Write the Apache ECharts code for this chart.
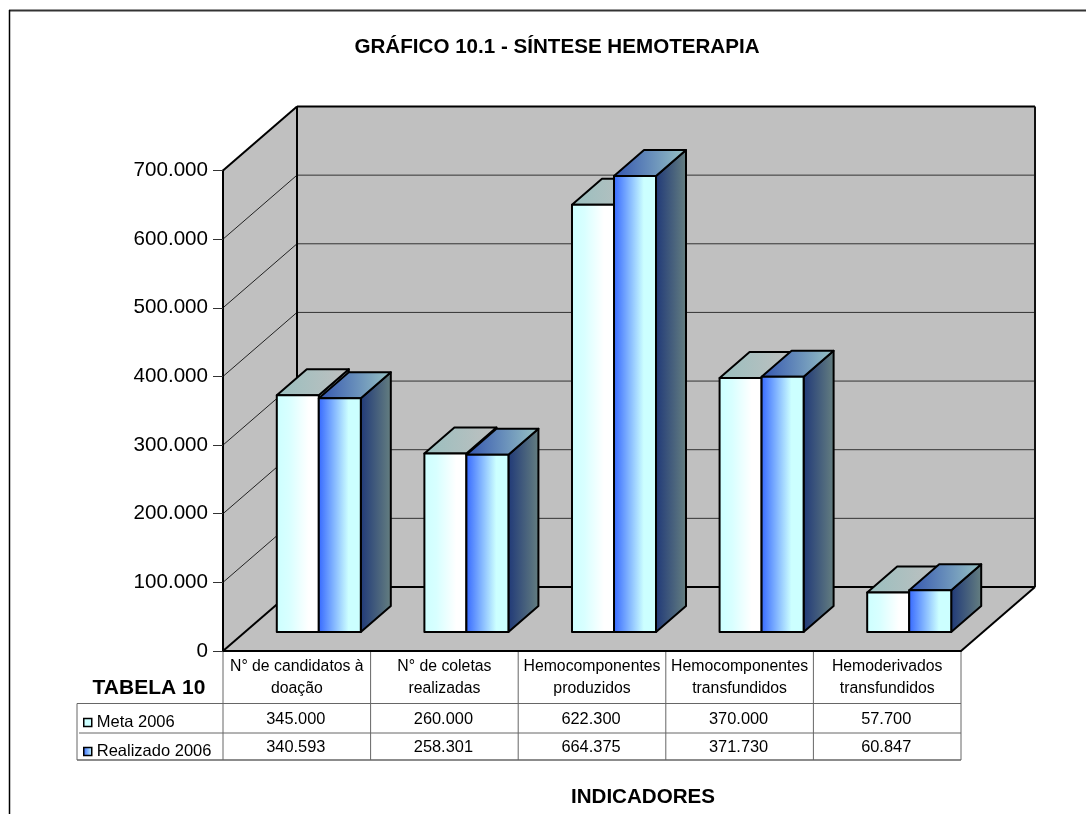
<!DOCTYPE html>
<html><head><meta charset="utf-8">
<style>html,body{margin:0;padding:0;background:#fff}#c{width:1086px;height:814px}</style>
<script src="https://cdn.jsdelivr.net/npm/echarts@6/dist/echarts.min.js"></script>
</head><body><div id="c"></div>
<script>
const categories = ["N° de candidatos à\ndoação","N° de coletas\nrealizadas","Hemocomponentes\nproduzidos","Hemocomponentes\ntransfundidos","Hemoderivados\ntransfundidos"];
const meta2006 = [345000,260000,622300,370000,57700];
const realizado2006 = [340593,258301,664375,371730,60847];
const yTicks = [0,100000,200000,300000,400000,500000,600000,700000];
const FONT = '"Liberation Sans", Arial, sans-serif';
const fmt = v => String(v).replace(/\B(?=(\d{3})+$)/g,'.');
const WALL = {dx:74, dy:64}, BAR = {w:0.2846, dx:30, dy:26, ox:22, oy:19};
const ROWS = {top:703.5, mid:733, bottom:760, left:77, y:[719,747]};
const stops = (...a) => ({type:'linear',x:0,y:0,x2:1,y2:0,colorStops:a.map(s=>({offset:s[0],color:s[1]}))});
const STY = [
 {front:stops([0,'#ccffff'],[0.3,'#d8ffff'],[0.75,'#ffffff'],[1,'#ffffff']), top:stops([0,'#99bfbf'],[1,'#c0c0c0']), side:stops([0,'#99bfbf'],[1,'#c0c0c0']), key:'#ccffff'},
 {front:stops([0,'#3366ff'],[0.7,'#ccffff'],[1,'#ccffff']), top:stops([0,'#3355b0'],[1,'#99c4c4']), side:stops([0,'#1f3878'],[1,'#668080']), key:stops([0,'#3366ff'],[1,'#ccffff'])}
];
const poly = (pts,fill,stroke,lw) => ({type:'polygon',shape:{points:pts},style:{fill:fill,stroke:stroke||null,lineWidth:lw||0,lineJoin:'round'}});
const line = (x1,y1,x2,y2,c,lw) => ({type:'line',shape:{x1,y1,x2,y2},style:{stroke:c,lineWidth:lw,fill:null}});

function renderFrame(params, api){
  const r = params.coordSys, L=r.x, R=r.x+r.width, dx=WALL.dx, dy=WALL.dy;
  const y0 = api.coord([0,0])[1], yT = api.coord([0,yTicks[yTicks.length-1]])[1];
  const ch = [];
  ch.push(poly([[L,yT],[L+dx,yT-dy],[L+dx,y0-dy],[L,y0]],'#c0c0c0'));
  ch.push(poly([[L+dx,yT-dy],[R+dx,yT-dy],[R+dx,y0-dy],[L+dx,y0-dy]],'#c0c0c0'));
  ch.push(poly([[L,y0],[L+dx,y0-dy],[R+dx,y0-dy],[R,y0]],'#c0c0c0'));
  yTicks.slice(1,-1).forEach(t=>{
    const y = api.coord([0,t])[1];
    ch.push(line(L,y,L+dx,y-dy,'#222',1));
  });
  yTicks.slice(1).forEach(t=>{
    const y = api.coord([0,t])[1];
    ch.push(line(L+dx,y-dy,R+dx,y-dy,'#333',1));
  });
  ch.push(line(L,yT,L+dx,yT-dy,'#000',2));
  ch.push(line(L+dx,yT-dy,R+dx,yT-dy,'#000',2));
  ch.push(line(L+dx,yT-dy,L+dx,y0-dy,'#000',2));
  ch.push(line(R+dx,yT-dy,R+dx,y0-dy,'#111',2));
  ch.push(line(L+dx,y0-dy,R+dx,y0-dy,'#000',2));
  ch.push(line(L,y0,L+dx,y0-dy,'#000',2));
  ch.push(line(R,y0,R+dx,y0-dy,'#000',2));
  const step = r.width/categories.length, G='#666';
  for(let i=0;i<=categories.length;i++) ch.push(line(L+i*step,y0,L+i*step,ROWS.bottom,G,1));
  ch.push(line(ROWS.left,ROWS.top,R,ROWS.top,G,1));
  ch.push(line(ROWS.left+2,ROWS.mid,R,ROWS.mid,G,1));
  ch.push(line(ROWS.left,ROWS.bottom,R,ROWS.bottom,G,1.5));
  ch.push(line(ROWS.left,ROWS.top,ROWS.left,ROWS.bottom,G,1));
  return {type:'group',children:ch};
}
function renderBar(idx){
  return function(params, api){
    const p = api.coord([api.value(0),api.value(1)]), b = api.coord([api.value(0),0]);
    const w = api.size([1,0])[0]*BAR.w, s = STY[idx];
    const x1 = p[0]+BAR.ox+(idx-1)*w, x2 = x1+w, yt = p[1]-BAR.oy, yb = b[1]-BAR.oy;
    const K='#000', LW=2;
    return {type:'group',children:[
      poly([[x2,yt],[x2+BAR.dx,yt-BAR.dy],[x2+BAR.dx,yb-BAR.dy],[x2,yb]],s.side,K,LW),
      poly([[x1,yt],[x1+BAR.dx,yt-BAR.dy],[x2+BAR.dx,yt-BAR.dy],[x2,yt]],s.top,K,LW),
      poly([[x1,yt],[x2,yt],[x2,yb],[x1,yb]],s.front,K,LW),
      {type:'text',style:{text:fmt(api.value(1)),x:p[0]-1,y:ROWS.y[idx],align:'center',verticalAlign:'middle',fill:'#000',font:'16.4px '+FONT}}
    ]};
  };
}
const chart = echarts.init(document.getElementById('c'),null,{renderer:'canvas'});
chart.setOption({
  animation:false, backgroundColor:'#fff',
  title:{text:'GRÁFICO 10.1 - SÍNTESE HEMOTERAPIA',left:557,top:37,padding:0,textAlign:'center',textStyle:{fontFamily:FONT,fontSize:20.6,fontWeight:'bold',color:'#000'}},
  legend:{orient:'vertical',left:83,top:714,padding:0,itemWidth:8,itemHeight:8,itemGap:12,selectedMode:false,icon:'rect',
    textStyle:{fontFamily:FONT,fontSize:16.5,color:'#000',padding:[0,0,0,0]},
    data:[{name:'Meta 2006',itemStyle:{color:STY[0].key,borderColor:'#000',borderWidth:1.5}},
          {name:'Realizado 2006',itemStyle:{color:STY[1].key,borderColor:'#000',borderWidth:1.5}}]},
  grid:{left:223,top:170.5,width:738,height:480.5,containLabel:false},
  xAxis:{type:'category',data:categories,z:5,axisTick:{show:false},
    axisLine:{lineStyle:{color:'#000',width:2}},
    axisLabel:{interval:0,margin:5,fontFamily:FONT,fontSize:15.8,lineHeight:22,color:'#000'}},
  yAxis:{type:'value',min:0,max:700000,interval:100000,z:5,
    axisLine:{show:true,lineStyle:{color:'#000',width:2}},
    axisTick:{show:true,length:10,lineStyle:{color:'#333',width:1}},
    splitLine:{show:false},
    axisLabel:{margin:15,fontFamily:FONT,fontSize:20.6,color:'#000',formatter:fmt}},
  graphic:[
    {type:'line',shape:{x1:9,y1:10.5,x2:1086,y2:10.5},style:{stroke:'#333',lineWidth:2}},
    {type:'line',shape:{x1:9.5,y1:10,x2:9.5,y2:814},style:{stroke:'#000',lineWidth:1.5}},
    {type:'text',style:{text:'TABELA 10',x:149,y:688,align:'center',verticalAlign:'middle',font:'bold 21px '+FONT,fill:'#000'}},
    {type:'text',style:{text:'INDICADORES',x:643,y:797,align:'center',verticalAlign:'middle',font:'bold 20.6px '+FONT,fill:'#000'}}
  ],
  series:[
    {type:'custom',name:'frame',z:1,silent:true,data:[[0,0]],encode:{x:0,y:1},renderItem:renderFrame,legendHoverLink:false},
    {type:'custom',name:'Meta 2006',z:6,data:meta2006.map((v,i)=>[i,v]),encode:{x:0,y:1},renderItem:renderBar(0)},
    {type:'custom',name:'Realizado 2006',z:7,data:realizado2006.map((v,i)=>[i,v]),encode:{x:0,y:1},renderItem:renderBar(1)}
  ]
});
</script></body></html>
